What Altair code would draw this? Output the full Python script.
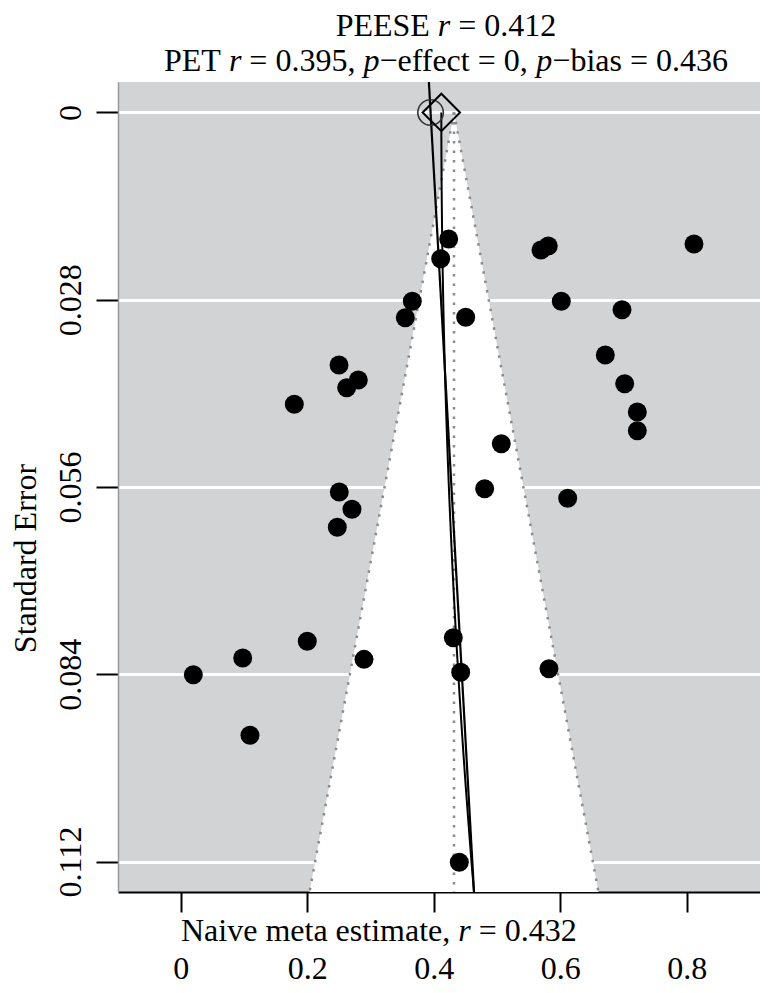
import altair as alt
import pandas as pd
import numpy as np

# ---------------- data ----------------
effect = [0.4236, 0.4110, 0.5696, 0.5811, 0.8115, 0.6017, 0.6977, 0.6713, 0.7019, 0.7219, 0.7219,
          0.3661, 0.3550, 0.4505, 0.2502, 0.2807, 0.2623, 0.1795, 0.5068, 0.4805, 0.2506, 0.2707,
          0.2475, 0.6118, 0.2000, 0.0979, 0.0198, 0.2897, 0.1094, 0.4309, 0.4426, 0.5822, 0.4404]
std_err = [0.01892, 0.02186, 0.02056, 0.01996, 0.01966, 0.02823, 0.02949, 0.03626, 0.04055, 0.04479, 0.04758,
           0.02823, 0.03068, 0.03062, 0.03776, 0.04000, 0.04115, 0.04363, 0.04953, 0.05625, 0.05675, 0.05933,
           0.06203, 0.05769, 0.07907, 0.08157, 0.08407, 0.08177, 0.09313, 0.07853, 0.08371, 0.08317, 0.11212]

naive_r = 0.432       # naive meta estimate (funnel centre)
pet_r = 0.395         # PET intercept
pet_slope = 0.589     # PET slope on SE
peese_r = 0.412       # PEESE intercept
peese_coef = 3.8      # PEESE coefficient on SE^2

x_ticks = [0, 0.2, 0.4, 0.6, 0.8]
y_ticks = [0, 0.028, 0.056, 0.084, 0.112]

title_line1 = [("PEESE ", False), ("r", True), (" = 0.412", False)]
title_line2 = [("PET ", False), ("r", True), (" = 0.395, ", False), ("p", True),
               ("\u2212effect = 0, ", False), ("p", True), ("\u2212bias = 0.436", False)]
x_title = [("Naive meta estimate, ", False), ("r", True), (" = 0.432", False)]
y_title = "Standard Error"

# ---------------- layout ----------------
FONT = "Liberation Serif"
FS = 32
X_DOM = [-0.0993, 0.9159]
Y_DOM = [-0.00456, 0.11656]
W, H = 642, 810
BG = "#d1d3d4"

xs = alt.Scale(domain=X_DOM, nice=False, zero=False)
ys = alt.Scale(domain=Y_DOM, reverse=True, nice=False, zero=False)

xax = alt.Axis(values=x_ticks, format=".1~f", title=None, grid=False, tickSize=20, tickWidth=2,
               tickColor="black", domainColor="black", domainWidth=2, labelFont=FONT,
               labelFontSize=FS, labelColor="black", labelPadding=66, labelBaseline="alphabetic",
               labelAlign="center")
yax = alt.Axis(values=y_ticks, format=".3~f", title=y_title, grid=True, gridColor="white",
               gridWidth=3, tickSize=22, tickWidth=2, tickColor="black", domainColor="#9a9a9a",
               domainWidth=1.5, labelFont=FONT, labelFontSize=FS, labelColor="black",
               labelAngle=270, labelAlign="center", labelBaseline="alphabetic", labelPadding=15.5,
               titleFont=FONT, titleFontSize=FS, titleFontWeight="normal", titleColor="black",
               titleAngle=270, titleAlign="center", titleBaseline="alphabetic",
               titleX=-83, titleY=476)


def X(field):
    return alt.X(field, type="quantitative", scale=xs, axis=xax)


def Y(field):
    return alt.Y(field, type="quantitative", scale=ys, axis=yax)


se_max = Y_DOM[1]
lo_b = naive_r - 1.96 * se_max
hi_b = naive_r + 1.96 * se_max

funnel = pd.DataFrame({"se": [0, se_max], "lo": [naive_r, lo_b], "hi": [naive_r, hi_b]})
area = alt.Chart(funnel).mark_area(orient="horizontal", color="white", opacity=1).encode(
    y=Y("se"), x=X("lo"), x2="hi")

edges = pd.DataFrame({"se": [0, se_max, 0, se_max, 0, se_max],
                      "x": [naive_r, lo_b, naive_r, hi_b, naive_r, naive_r],
                      "edge": ["l", "l", "r", "r", "c", "c"]})
dots = alt.Chart(edges).mark_line(color="#8a8a8a", strokeWidth=2.5, strokeDash=[2.5, 7],
                                  strokeCap="butt").encode(
    x=X("x"), y=Y("se"), detail="edge:N", order="se:Q")

pts = pd.DataFrame({"effect": effect, "se": std_err})
points = alt.Chart(pts).mark_point(shape="circle", filled=True, size=360, color="black",
                                   opacity=1).encode(x=X("effect"), y=Y("se"))

pet_se = [Y_DOM[0], Y_DOM[1]]
pet = pd.DataFrame({"se": pet_se, "x": [pet_r + pet_slope * s for s in pet_se]})
pet_line = alt.Chart(pet).mark_line(color="black", strokeWidth=2.2).encode(
    x=X("x"), y=Y("se"), order="se:Q")

peese_se = np.linspace(0, se_max, 60)
peese = pd.DataFrame({"se": peese_se, "x": peese_r + peese_coef * peese_se ** 2})
peese_line = alt.Chart(peese).mark_line(color="black", strokeWidth=2).encode(
    x=X("x"), y=Y("se"), order="se:Q")

circ = alt.Chart(pd.DataFrame({"x": [pet_r], "se": [0.0]})).mark_point(
    shape="circle", filled=False, size=650, color="#333333", strokeWidth=1.6, opacity=1).encode(
    x=X("x"), y=Y("se"))
diam = alt.Chart(pd.DataFrame({"x": [peese_r], "se": [0.0]})).mark_point(
    shape="diamond", filled=False, size=1400, color="black", strokeWidth=2, opacity=1).encode(
    x=X("x"), y=Y("se"))

# --- mixed roman / italic text lines ---
WN = {" ": 250, "P": 556, "E": 611, "S": 556, "T": 611, "N": 722, "a": 444, "i": 278, "v": 500,
      "e": 444, "m": 778, "t": 278, "s": 389, ",": 250, "=": 564, ".": 250, "\u2212": 564,
      "f": 333, "c": 444, "b": 500, "r": 333, "p": 500}
for d in "0123456789":
    WN[d] = 500
WI = {"r": 389, "p": 500}


def seg_w(s, it):
    tbl = WI if it else WN
    return sum(tbl.get(c, 500) for c in s) * FS / 1000.0


def text_layers(segs, y, start=None, center=None):
    total = sum(seg_w(s, it) for s, it in segs)
    x = start if start is not None else center - total / 2.0
    out = []
    for s, it in segs:
        lead = len(s) - len(s.lstrip(" "))
        txt = s.strip(" ")
        px = x + lead * WN[" "] * FS / 1000.0
        out.append(alt.Chart(pd.DataFrame({"t": [txt]})).mark_text(
            font=FONT, fontSize=FS, fontStyle="italic" if it else "normal", align="left",
            baseline="alphabetic", color="black").encode(
            x=alt.value(px), y=alt.value(y), text="t:N"))
        x += seg_w(s, it)
    return out


texts = (text_layers(title_line1, -46, center=328) +
         text_layers(title_line2, -11, center=328) +
         text_layers(x_title, 859, start=63))

chart = alt.layer(area, dots, points, pet_line, peese_line, circ, diam, *texts).properties(
    width=W, height=H,
    padding={"left": 110, "top": 74, "right": 0, "bottom": 93},
    autosize=alt.AutoSizeParams(type="none"),
).configure_view(fill=BG, strokeWidth=0)

chart.save("out.html", embed_options={"renderer": "svg", "actions": False})
